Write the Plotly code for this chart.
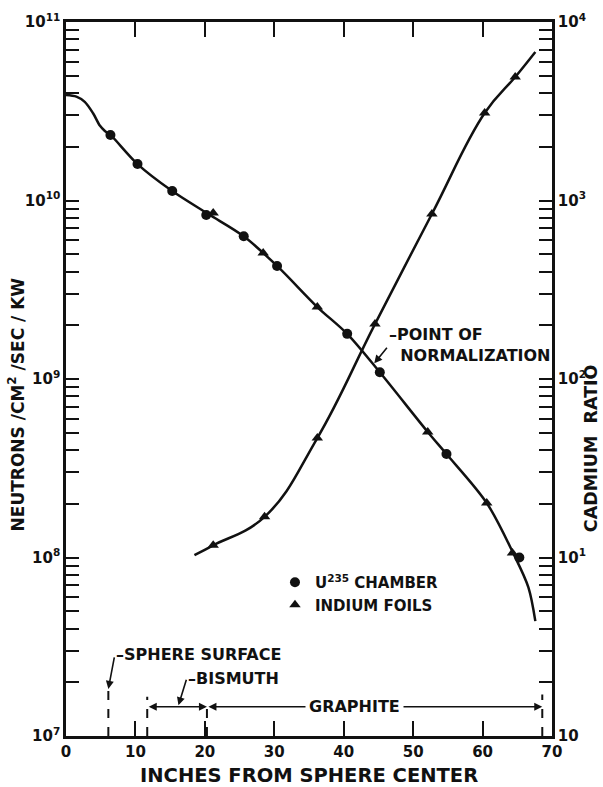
import plotly.graph_objects as go

# ---------------- data ----------------
# U235 chamber points (neutron flux, left axis)
u235_x = [6.4, 10.3, 15.3, 20.2, 25.6, 30.4, 40.5, 45.2, 54.8, 65.3]
u235_flux = [2.33e10, 1.6e10, 1.13e10, 8.3e9, 6.3e9, 4.3e9, 1.79e9, 1.09e9, 3.8e8, 1.0e8]

# Indium foil points lying on the flux curve (left axis)
indium_x = [21.2, 28.4, 36.2, 52.1, 60.6, 64.3]
indium_flux = [8.5e9, 5.08e9, 2.53e9, 5.05e8, 2.02e8, 1.06e8]

# Indium foil cadmium ratio points (right axis)
cd_x = [21.2, 28.6, 36.2, 44.5, 52.7, 60.3, 64.7]
cd_ratio = [11.7, 16.9, 46.7, 203, 840, 3090, 4920]

# Drawn smooth curves
flux_curve_x = [0, 1.5, 2.7, 3.9, 4.9, 5.6, 6.4, 10.3, 15.3, 20.5, 25.6, 30.4, 36.2,
                40.5, 45.2, 52.1, 54.8, 60.6, 64.5, 66.6, 67.6]
flux_curve_y = [3.9e10, 3.82e10, 3.57e10, 3.08e10, 2.62e10, 2.45e10, 2.33e10, 1.6e10, 1.13e10,
                8.4e9, 6.3e9, 4.3e9, 2.53e9, 1.79e9, 1.09e9, 5.05e8, 3.8e8, 2.02e8,
                1.04e8, 6.8e7, 4.4e7]
cd_curve_x = [18.5, 21.2, 28.6, 36.2, 44.5, 52.7, 60.3, 64.7, 67.6]
cd_curve_y = [10.3, 11.7, 16.9, 46.7, 203, 840, 3090, 4920, 6800]

# Axis ticks
x_ticks = [0, 10, 20, 30, 40, 50, 60, 70]
left_exps = [7, 8, 9, 10, 11]
right_exps = [0, 1, 2, 3, 4]
right_labels = ["10", "10<sup>1</sup>", "10<sup>2</sup>", "10<sup>3</sup>", "10<sup>4</sup>"]

# Region boundaries (inches)
sphere_surface = 6.1
bismuth_start = 11.7
bismuth_end = 20.3
graphite_end = 68.6

# ---------------- figure ----------------
FONT = "DejaVu Sans"
BLACK = "#111111"


def log_ticks(exps):
    vals, texts = [], []
    for e in exps:
        for m in range(1, 10):
            if e == exps[-1] and m > 1:
                break
            vals.append(m * 10 ** e)
            texts.append("")
    return vals, texts


lv, lt = log_ticks(left_exps)
for i, v in enumerate(lv):
    for e in left_exps:
        if abs(v - 10 ** e) < 1e-6 * v:
            lt[i] = "10<sup>%d</sup>" % e
rv, rt = log_ticks(right_exps)
for i, v in enumerate(rv):
    for e, lab in zip(right_exps, right_labels):
        if abs(v - 10 ** e) < 1e-6 * v:
            rt[i] = lab

fig = go.Figure()

fig.add_trace(go.Scatter(x=flux_curve_x, y=flux_curve_y, mode="lines",
                         line=dict(color=BLACK, width=2.5, shape="spline", smoothing=0.9),
                         showlegend=False, hoverinfo="skip"))
fig.add_trace(go.Scatter(x=cd_curve_x, y=cd_curve_y, mode="lines", yaxis="y2",
                         line=dict(color=BLACK, width=2.5, shape="spline", smoothing=1.2),
                         showlegend=False, hoverinfo="skip"))
fig.add_trace(go.Scatter(x=u235_x, y=u235_flux, mode="markers",
                         marker=dict(symbol="circle", size=10, color=BLACK),
                         name="U<sup>235</sup> CHAMBER"))
fig.add_trace(go.Scatter(x=indium_x, y=indium_flux, mode="markers",
                         marker=dict(symbol="triangle-up", size=10, color=BLACK),
                         name="INDIUM FOILS"))
fig.add_trace(go.Scatter(x=cd_x, y=cd_ratio, mode="markers", yaxis="y2",
                         marker=dict(symbol="triangle-up", size=10, color=BLACK),
                         showlegend=False))

tf = dict(family=FONT, size=15, color=BLACK, weight="bold")
common = dict(tickwidth=2, tickcolor=BLACK, showline=True, linewidth=2.5, linecolor=BLACK,
              showgrid=False, zeroline=False, tickfont=tf, automargin=False)

fig.update_layout(
    width=603, height=787,
    margin=dict(l=66, r=51, t=22, b=51),
    paper_bgcolor="white", plot_bgcolor="white",
    font=dict(family=FONT, color=BLACK, size=15, weight="bold"),
    xaxis=dict(range=[0, 70], tickvals=x_ticks, ticks="inside", ticklen=15,
               mirror="ticks", **common),
    yaxis=dict(type="log", range=[7, 11], tickvals=lv, ticktext=lt, ticks="inside",
               ticklen=13, **common),
    yaxis2=dict(type="log", range=[0, 4], tickvals=rv, ticktext=rt, ticks="inside",
                ticklen=13, overlaying="y", side="right", **common),
    legend=dict(x=0.43, y=0.238, xanchor="left", yanchor="top", bgcolor="rgba(0,0,0,0)",
                font=dict(family=FONT, size=15, weight="bold"), itemwidth=30,
                tracegroupgap=0),
)

# axis titles as annotations (positioned like the reference)
fig.add_annotation(x=0.5, y=-0.055, xref="paper", yref="paper", text="INCHES FROM SPHERE CENTER",
                   showarrow=False, xanchor="center", yanchor="middle",
                   font=dict(family=FONT, size=19.5, color=BLACK, weight="bold"))
fig.add_annotation(x=-0.102, y=0.465, xref="paper", yref="paper",
                   text="NEUTRONS /CM<sup>2</sup> /SEC / KW", textangle=-90, showarrow=False,
                   xanchor="center", yanchor="middle",
                   font=dict(family=FONT, size=17, color=BLACK, weight="bold"))
fig.add_annotation(x=1.08, y=0.403, xref="paper", yref="paper", text="CADMIUM  RATIO",
                   textangle=-90, showarrow=False, xanchor="center", yanchor="middle",
                   font=dict(family=FONT, size=17.5, color=BLACK, weight="bold"))

# region boundary dashed lines
for xb, top in [(sphere_surface, 0.064), (bismuth_start, 0.055), (bismuth_end, 0.05),
                (graphite_end, 0.058)]:
    fig.add_shape(type="line", xref="x", yref="paper", x0=xb, x1=xb, y0=0, y1=top,
                  line=dict(color=BLACK, width=2, dash="dash"))

ann_font = dict(family=FONT, size=16, color=BLACK, weight="bold")
arr_y = 0.041

# bismuth span (double arrow)
fig.add_annotation(x=bismuth_end, y=arr_y, xref="x", yref="paper", ax=bismuth_start, ay=0,
                   axref="x", ayref="pixel", text="", showarrow=True, arrowhead=2,
                   startarrowhead=2, arrowside="end+start", arrowwidth=1.6, arrowcolor=BLACK,
                   arrowsize=1.0)
# graphite span (double arrow)
fig.add_annotation(x=graphite_end, y=arr_y, xref="x", yref="paper", ax=bismuth_end, ay=0,
                   axref="x", ayref="pixel", text="", showarrow=True, arrowhead=2,
                   startarrowhead=2, arrowside="end+start", arrowwidth=1.6, arrowcolor=BLACK,
                   arrowsize=1.0)
fig.add_annotation(x=41.6, y=arr_y, xref="x", yref="paper", text="GRAPHITE", showarrow=False,
                   xanchor="center", yanchor="middle",
                   font=ann_font, bgcolor="white", borderpad=3)

# sphere surface leader
fig.add_annotation(x=sphere_surface, y=0.066, xref="x", yref="paper", ax=7.0, ay=-33,
                   axref="x", ayref="pixel", text="", showarrow=True, arrowhead=2,
                   arrowwidth=1.6, arrowcolor=BLACK, arrowsize=1.0)
fig.add_annotation(x=6.9, y=0.114, xref="x", yref="paper", text="–SPHERE SURFACE",
                   showarrow=False, xanchor="left", yanchor="middle", font=ann_font)

# bismuth leader
fig.add_annotation(x=16.2, y=arr_y + 0.002, xref="x", yref="paper", ax=17.4, ay=-27,
                   axref="x", ayref="pixel", text="", showarrow=True, arrowhead=2,
                   arrowwidth=1.6, arrowcolor=BLACK, arrowsize=1.0)
fig.add_annotation(x=17.3, y=0.08, xref="x", yref="paper", text="–BISMUTH",
                   showarrow=False, xanchor="left", yanchor="middle", font=ann_font)

# point of normalization leader
fig.add_annotation(x=44.4, y=0.522, xref="x", yref="paper", ax=46.4, ay=-17,
                   axref="x", ayref="pixel", text="", showarrow=True, arrowhead=2,
                   arrowwidth=1.6, arrowcolor=BLACK, arrowsize=1.0)
fig.add_annotation(x=46.3, y=0.548, xref="x", yref="paper",
                   text="–POINT OF<br>  NORMALIZATION", showarrow=False,
                   xanchor="left", yanchor="middle", align="left", font=ann_font)

fig.write_html("out.html")
